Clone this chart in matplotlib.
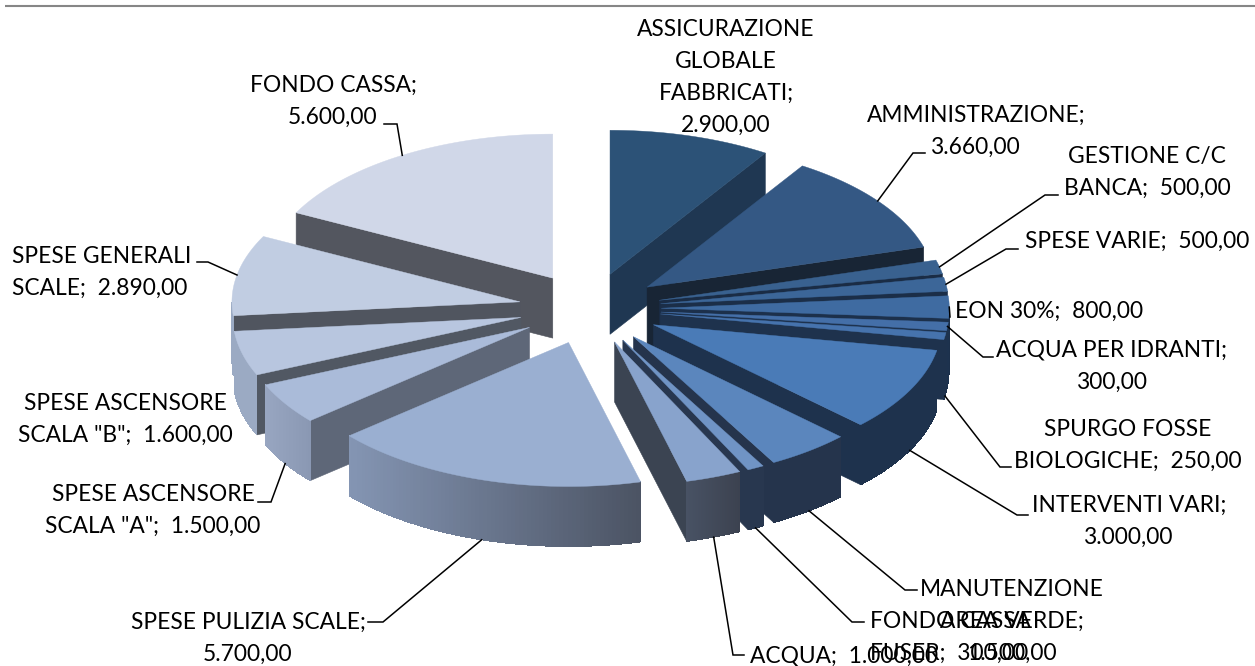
import numpy as np
import matplotlib
matplotlib.use("Agg")
import matplotlib.pyplot as plt
from matplotlib.colors import to_rgb

plt.rcParams['font.family'] = ['Lato', 'DejaVu Sans']

# slices clockwise from 12 o'clock
categories = ['ASSICURAZIONE GLOBALE FABBRICATI', 'AMMINISTRAZIONE', 'GESTIONE C/C BANCA',
              'SPESE VARIE', 'EON 30%', 'ACQUA PER IDRANTI', 'SPURGO FOSSE BIOLOGICHE',
              'INTERVENTI VARI', 'MANUTENZIONE AREA VERDE', 'FONDO CASSA FUSER', 'ACQUA',
              'SPESE PULIZIA SCALE', 'SPESE ASCENSORE SCALA "A"', 'SPESE ASCENSORE SCALA "B"',
              'SPESE GENERALI SCALE', 'FONDO CASSA']
values = [2900, 3660, 500, 500, 800, 300, 250, 3000, 1500, 300, 1000, 5700, 1500, 1600, 2890, 5600]

label_lines = [
    ['ASSICURAZIONE', 'GLOBALE', 'FABBRICATI;', '2.900,00'],
    ['AMMINISTRAZIONE;', '3.660,00'],
    ['GESTIONE C/C', 'BANCA;  500,00'],
    ['SPESE VARIE;  500,00'],
    ['EON 30%;  800,00'],
    ['ACQUA PER IDRANTI;', '300,00'],
    ['SPURGO FOSSE', 'BIOLOGICHE;  250,00'],
    ['INTERVENTI VARI;', '3.000,00'],
    ['MANUTENZIONE', 'AREA VERDE;', '1.500,00'],
    ['FONDO CASSA', 'FUSER;  300,00'],
    ['ACQUA;  1.000,00'],
    ['SPESE PULIZIA SCALE;', '5.700,00'],
    ['SPESE ASCENSORE', 'SCALA "A";  1.500,00'],
    ['SPESE ASCENSORE', 'SCALA "B";  1.600,00'],
    ['SPESE GENERALI', 'SCALE;  2.890,00'],
    ['FONDO CASSA;', '5.600,00'],
]
# x anchor, first baseline, alignment
label_pos = [(726, 36, 'center'), (976, 122, 'center'), (1147, 163, 'center'), (1025, 248, 'left'),
             (955, 318, 'left'), (1112, 357, 'center'), (1128, 436, 'center'), (1129, 512, 'center'),
             (1012, 596, 'center'), (870, 628, 'left'), (750, 662, 'left'), (248, 629, 'center'),
             (153, 501, 'center'), (125, 410, 'center'), (12, 263, 'left'), (333, 92, 'center')]
# leader points after the one on the slice edge
leaders = [None, [(913, 153), (925, 153)], [(1045, 195), (1058, 195)], [(1006, 249), (1018, 249)],
           [(950, 317)], [(983, 357), (993, 357)], [(1000, 467), (1011, 467)], [(1017, 515), (1028, 515)],
           [(905, 590), (917, 590)], [(852, 622), (864, 622)], [(733, 655), (744, 655)],
           [(383, 622), (368, 622)], [(271, 502), (258, 502)], None, [(208, 262), (197, 262)],
           [(397, 124), (384, 124)]]

top_colors = ['#2c5277', '#345884', '#39618f', '#3c6698', '#3f6ba1', '#446fa8', '#4673ad', '#4a7bb7',
              '#5b86bd', '#7094c5', '#88a3cc', '#9aafd1', '#aabbd9', '#b8c6df', '#c1cde2', '#d0d7e8']
wall_colors = ['#1f3752', '#182535', '#1a2c45', '#1b2e48', '#1c304b', '#1d324e', '#1e324d', '#1e324d',
               '#25344c', '#28374f', '#3b4452', '#4b5364', '#5e6778', '#515863', '#50555f', '#53565f']
arc_left = ['#1f3752', '#182535', '#1a2c45', '#1b2e48', '#1c304b', '#1d324e', '#1e324d', '#1e324d',
            '#25344c', '#28374f', '#485264', '#8495b3', '#98a6c1', '#9baac3', '#9baac3', '#53565f']
arc_right = ['#1f3752', '#182535', '#1a2c45', '#1b2e48', '#1c304b', '#1d324e', '#1e324d', '#1e324d',
             '#25344c', '#28374f', '#3c4250', '#4b5363', '#8a98b3', '#9baac3', '#9baac3', '#53565f']

cx, cy = 590, 308.5
rx, ry = 288, 144
explode = 0.2475
depth = 60


def edge(theta, ax0, ay0):
    return ax0 + rx * np.sin(theta), ay0 - ry * np.cos(theta)


fig = plt.figure(figsize=(12.55, 6.66), dpi=100)
ax = fig.add_axes([0, 0, 1, 1])
ax.set_xlim(0, 1255)
ax.set_ylim(666, 0)
ax.axis('off')

ax.plot([5, 1255], [5.5, 5.5], color='#868686', lw=1.5, solid_capstyle='butt')

bounds = np.radians(np.cumsum([0] + values) / sum(values) * 360)
mids = (bounds[:-1] + bounds[1:]) / 2

# back to front
for i in np.argsort(-np.cos(mids)):
    t0, t1, m = bounds[i], bounds[i + 1], mids[i]
    ax0 = cx + explode * rx * np.sin(m)
    ay0 = cy - explode * ry * np.cos(m)
    ts = np.linspace(t0, t1, 80)
    xs, ys = edge(ts, ax0, ay0)

    # flat side walls
    if np.sin(t1) > 0:
        ex, ey = edge(t1, ax0, ay0)
        ax.fill([ax0, ex, ex, ax0], [ay0, ey, ey + depth, ay0 + depth], color=wall_colors[i], lw=0.4)
    if np.sin(t0) < 0:
        ex, ey = edge(t0, ax0, ay0)
        ax.fill([ax0, ex, ex, ax0], [ay0, ey, ey + depth, ay0 + depth], color=wall_colors[i], lw=0.4)

    # curved wall with a left to right shade
    front = ts[(ts > np.pi / 2) & (ts < 3 * np.pi / 2)]
    if len(front) > 1:
        fx, fy = edge(front, ax0, ay0)
        order = np.argsort(fx)
        fx, fy = fx[order], fy[order]
        c0, c1 = np.array(to_rgb(arc_left[i])), np.array(to_rgb(arc_right[i]))
        for k in range(len(fx) - 1):
            f = (fx[k] - fx[0]) / max(fx[-1] - fx[0], 1)
            col = c0 + (c1 - c0) * f
            ax.fill([fx[k], fx[k + 1], fx[k + 1], fx[k]],
                    [fy[k], fy[k + 1], fy[k + 1] + depth, fy[k] + depth], color=col, lw=0,
                    antialiased=False)

    ax.fill(np.r_[ax0, xs], np.r_[ay0, ys], color=top_colors[i], lw=0.3)

# leader lines and labels
for i, pts in enumerate(leaders):
    if pts is None:
        continue
    m = mids[i]
    x0, y0 = edge(m, cx + explode * rx * np.sin(m), cy - explode * ry * np.cos(m))
    if np.degrees(m) > 97 and np.degrees(m) < 270:
        y0 += depth
    ax.plot([x0] + [p[0] for p in pts], [y0] + [p[1] for p in pts], color='black', lw=1.1,
            solid_joinstyle='miter')

for lines, (x, y, ha) in zip(label_lines, label_pos):
    for n, line in enumerate(lines):
        ax.text(x, y + n * 32, line, ha=ha, va='baseline', fontsize=16.4, color='black')

fig.savefig('out.png', dpi=100)
